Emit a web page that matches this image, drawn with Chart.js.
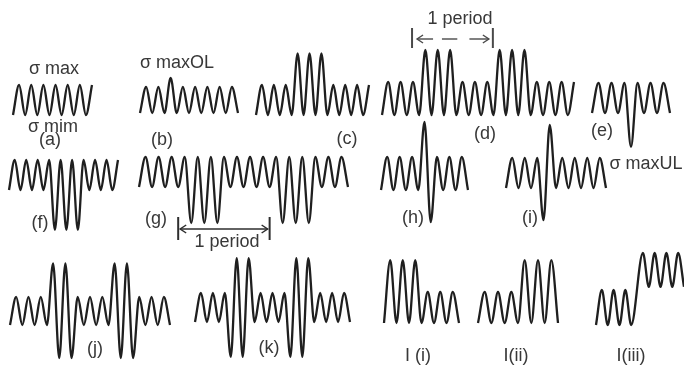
<!DOCTYPE html>
<html>
<head>
<meta charset="utf-8">
<script src="https://cdn.jsdelivr.net/npm/chart.js@4.4.1/dist/chart.umd.min.js"></script>
<style>
  html, body { margin: 0; padding: 0; background: #fff; }
  #fig { position: relative; width: 684px; height: 368px; overflow: hidden; background: #fff; }
  #fig canvas { position: absolute; left: 0; top: 0; }
  .lbl {
    position: absolute; white-space: nowrap; transform: translate(-50%, -50%);
    font-family: "Liberation Sans", Arial, sans-serif; font-size: 18px; color: #383838;
  }
</style>
</head>
<body>
<div id="fig"></div>
<script>
// Stress level at each load reversal (normal valley = 0, normal peak = 1).
const loadA  = [0,1,0,1,0,1,0,1,0,1,0,1,0,1];
const loadB  = [0,1,0,1,0,1.35,0,1,0,1,0,1,0,1,0,1,0];
const loadC  = [0,1,0,1,0,1,0,2.05,0,2.05,0,2.05,0,1,0,1,0,1,0,1];
const loadD  = [0,1,0,1,0,1,0,1.97,0,1.97,0,1.97,0,1,0,1,0,1,0,1.97,0,1.97,0,1.97,0,1,0,1,0,1,0,1];
const loadE  = [0,1,0,1,0,1,-1.13,1,0,1,0,1,0];
const loadF  = [0,1,0,1,0,1,0,1,-1.33,1,-1.33,1,-1.33,1,0,1,0,1,0,1];
const loadG  = [0,1,0,1,0,1,0,1,-1.2,1,-1.2,1,-1.2,1,0,1,0,1,0,1,0,1,-1.2,1,-1.2,1,-1.2,1,0,1,0,1,0];
const loadH  = [0,1,0,1,0,1,0,2.06,-0.97,1,0,1,0,1,0];
const loadI  = [0,1,0,1,0,1,-1.07,2.1,0,1,0,1,0,1,0,1,0];
const loadJ  = [0,1,0,1,0,1,0,2.2,-1.18,2.2,-1.18,1,0,1,0,1,0,2.2,-1.18,2.2,-1.18,1,0,1,0,1,0];
const loadK  = [0,1,0,1,0,1,-1.2,2.2,-1.2,2.2,0,1,0,1,0,1,-1.2,2.2,-1.2,2.2,0,1,0,1,0,1,0];
const loadL1 = [0,2.03,0,2.03,0,2.03,0,1,0,1,0,1,0];
const loadL2 = [0,1,0,1,0,1,0,2.03,0,2.03,0,2.03,0];
const loadL3 = [0,1,0,1,0,1,0,2.06,1.09,2.06,1.09,2.06,1.09,2.06,1.09];
// reversal times in half-cycles (mean-level step in l(iii) takes a full cycle)
const timeL3 = [0,1,2,3,4,5,6,8,9,10,11,12,13,14,15];

// "1 period" brackets, in reversal-index units of their sequence
const periodMarkD = [4.85, 17.9];
const periodMarkG = [6, 20];

const W = 684, H = 368;

// where each sequence sits on the sheet: x of first/last reversal, y of level 0, px per level unit
const panels = [
  { name: 'a',   data: loadA,  x0: 13,  x1: 92,  base: 115, unit: 30 },
  { name: 'b',   data: loadB,  x0: 140, x1: 238, base: 113, unit: 26 },
  { name: 'c',   data: loadC,  x0: 256, x1: 369, base: 115, unit: 30 },
  { name: 'd',   data: loadD,  x0: 382, x1: 574, base: 115, unit: 33, bracket: 'd' },
  { name: 'e',   data: loadE,  x0: 592, x1: 670, base: 113, unit: 30 },
  { name: 'f',   data: loadF,  x0: 9,   x1: 118, base: 190, unit: 30 },
  { name: 'g',   data: loadG,  x0: 139, x1: 348, base: 187, unit: 30, bracket: 'g' },
  { name: 'h',   data: loadH,  x0: 381, x1: 468, base: 190, unit: 33 },
  { name: 'i',   data: loadI,  x0: 506, x1: 606, base: 188, unit: 30 },
  { name: 'j',   data: loadJ,  x0: 10,  x1: 170, base: 325, unit: 28 },
  { name: 'k',   data: loadK,  x0: 195, x1: 350, base: 322, unit: 29 },
  { name: 'l1',  data: loadL1, x0: 384, x1: 459, base: 323, unit: 31 },
  { name: 'l2',  data: loadL2, x0: 478, x1: 558, base: 323, unit: 31 },
  { name: 'l3',  data: loadL3, x0: 596, x1: 684, base: 325, unit: 35, times: timeL3 }
];

const labels = [
  { t: 'σ max',    x: 54,  y: 68 },
  { t: 'σ mim',    x: 53,  y: 126 },
  { t: '(a)',      x: 50,  y: 139 },
  { t: 'σ maxOL',  x: 177, y: 62 },
  { t: '(b)',      x: 162, y: 139 },
  { t: '(c)',      x: 347, y: 138 },
  { t: '1 period', x: 460, y: 18 },
  { t: '(d)',      x: 485, y: 133 },
  { t: '(e)',      x: 602, y: 130 },
  { t: '(f)',      x: 40,  y: 222 },
  { t: '(g)',      x: 156, y: 218 },
  { t: '1 period', x: 227, y: 241 },
  { t: '(h)',      x: 413, y: 217 },
  { t: '(i)',      x: 530, y: 217 },
  { t: 'σ maxUL',  x: 646, y: 163 },
  { t: '(j)',      x: 95,  y: 348 },
  { t: '(k)',      x: 269, y: 347 },
  { t: 'I (i)',    x: 418, y: 355 },
  { t: 'I(ii)',    x: 516, y: 355 },
  { t: 'I(iii)',   x: 631, y: 355 }
];

const INK = '#1f1f1f';

function chevron(ctx, x, y, dir, len, half) {
  ctx.beginPath();
  ctx.moveTo(x - dir * len, y - half);
  ctx.lineTo(x, y);
  ctx.lineTo(x - dir * len, y + half);
  ctx.stroke();
}

// bracket drawn on top of the sequence, using that chart's x scale
const bracketPlugin = {
  id: 'periodBracket',
  afterDatasetsDraw(chart, args, opts) {
    if (!opts || !opts.kind) return;
    const ctx = chart.ctx, xs = chart.scales.x;
    ctx.save();
    ctx.strokeStyle = '#4a4a4a';
    ctx.lineCap = 'butt';
    if (opts.kind === 'd') {
      const L = xs.getPixelForValue(periodMarkD[0]);
      const R = xs.getPixelForValue(periodMarkD[1]);
      const y = 39, span = R - L;
      ctx.lineWidth = 2;
      [L, R].forEach(x => { ctx.beginPath(); ctx.moveTo(x, 28); ctx.lineTo(x, 48); ctx.stroke(); });
      ctx.lineWidth = 1.4;
      // left arrow
      ctx.beginPath(); ctx.moveTo(L + 5, y); ctx.lineTo(L + span * 0.26, y); ctx.stroke();
      chevron(ctx, L + 5, y, -1, 6, 4);
      // middle dash
      ctx.beginPath(); ctx.moveTo(L + span * 0.37, y); ctx.lineTo(L + span * 0.56, y); ctx.stroke();
      // right arrow
      ctx.beginPath(); ctx.moveTo(L + span * 0.71, y); ctx.lineTo(R - 4, y); ctx.stroke();
      chevron(ctx, R - 4, y, 1, 6, 4);
    } else if (opts.kind === 'g') {
      const L = xs.getPixelForValue(periodMarkG[0]);
      const R = xs.getPixelForValue(periodMarkG[1]);
      const y = 229;
      ctx.strokeStyle = '#2e2e2e';
      ctx.lineWidth = 2;
      [L, R].forEach(x => { ctx.beginPath(); ctx.moveTo(x, 217); ctx.lineTo(x, 240); ctx.stroke(); });
      ctx.lineWidth = 1.5;
      ctx.beginPath(); ctx.moveTo(L + 2, y); ctx.lineTo(R - 2, y); ctx.stroke();
      chevron(ctx, L + 2, y, -1, 6, 4);
      chevron(ctx, R - 2, y, 1, 6, 4);
    }
    ctx.restore();
  }
};

const fig = document.getElementById('fig');

panels.forEach(p => {
  const n = p.data.length;
  const t = p.times || p.data.map((_, i) => i);
  const t0 = t[0], t1 = t[n - 1];
  const step = (p.x1 - p.x0) / (t1 - t0);          // px per time unit
  const xMin = t0 - p.x0 / step, xMax = xMin + W / step;
  const yMax = p.base / p.unit, yMin = (p.base - H) / p.unit;

  const cv = document.createElement('canvas');
  cv.width = W; cv.height = H;
  cv.style.width = W + 'px'; cv.style.height = H + 'px';
  fig.appendChild(cv);

  new Chart(cv.getContext('2d'), {
    type: 'line',
    data: {
      datasets: [{
        data: p.data.map((v, i) => ({ x: t[i], y: v })),
        borderColor: INK,
        borderWidth: 2.3,
        pointRadius: 0,
        fill: false,
        cubicInterpolationMode: 'monotone'
      }]
    },
    options: {
      responsive: false,
      animation: false,
      events: [],
      devicePixelRatio: 1,
      layout: { padding: 0 },
      scales: {
        x: { type: 'linear', display: false, min: xMin, max: xMax },
        y: { type: 'linear', display: false, min: yMin, max: yMax }
      },
      plugins: {
        legend: { display: false },
        tooltip: { enabled: false },
        periodBracket: { kind: p.bracket || null }
      }
    },
    plugins: [bracketPlugin]
  });
});

labels.forEach(l => {
  const d = document.createElement('div');
  d.className = 'lbl';
  d.textContent = l.t;
  d.style.left = l.x + 'px';
  d.style.top = l.y + 'px';
  fig.appendChild(d);
});
</script>
</body>
</html>
